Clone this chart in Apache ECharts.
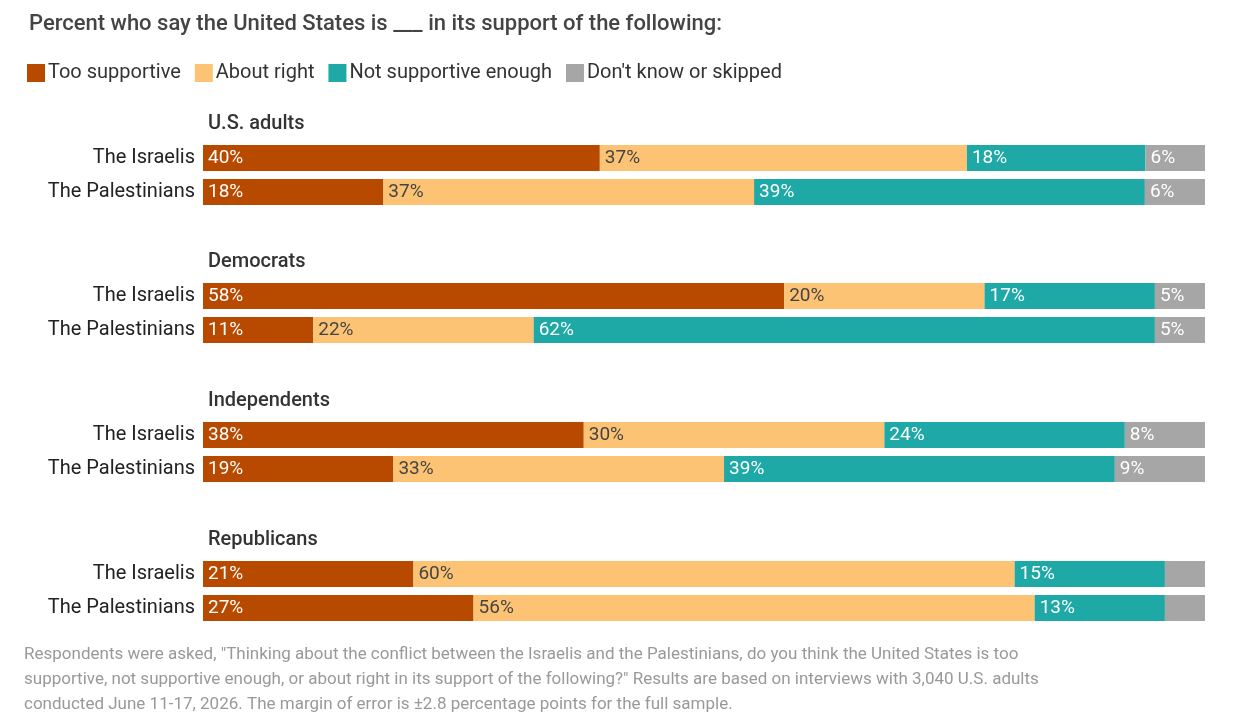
<!DOCTYPE html>
<html><head><meta charset="utf-8">
<script src="https://cdn.jsdelivr.net/npm/echarts@6/dist/echarts.min.js"></script>
<style>html,body{margin:0;padding:0;background:#fff}#c{width:1246px;height:717px}</style>
</head><body><div id="c"></div>
<script>
const groups = ["U.S. adults","Democrats","Independents","Republicans"];
const rows = ["The Israelis","The Palestinians"];
const seriesNames = ["Too supportive","About right","Not supportive enough","Don't know or skipped"];
const tooSupportive = [[40,18],[58,11],[38,19],[21,27]];
const aboutRight    = [[37,37],[20,22],[30,33],[60,56]];
const notEnough     = [[18,39],[17,62],[24,39],[15,13]];
const dontKnow      = [[6,6],[5,5],[8,9],[4,4]];
const showDontKnowLabel = [true,true,true,false];
const colors = ["#b84a00","#fdc375","#1ea8a6","#a6a6a6"];
const labelColors = ["#fff","#444","#fff","#fff"];
const all = [tooSupportive,aboutRight,notEnough,dontKnow];
const F = "Roboto, 'Noto Sans', sans-serif";
const tops = [141,279,418,557];
const grids=[],xAxes=[],yAxes=[],series=[],titles=[];
titles.push({text:"Percent who say the United States is ___ in its support of the following:",left:24,top:8,textStyle:{fontFamily:F,fontSize:22,fontWeight:500,color:"#444"}});
groups.forEach((g,gi)=>{
  grids.push({left:203,right:41,top:tops[gi],height:68});
  xAxes.push({gridIndex:gi,type:"value",min:0,max:100,show:false});
  yAxes.push({gridIndex:gi,type:"category",data:rows,inverse:true,axisLine:{show:false},axisTick:{show:false},
    axisLabel:{fontFamily:F,fontSize:20,color:"#222",margin:8}});
  titles.push({text:g,left:203,top:tops[gi]-32,textStyle:{fontFamily:F,fontSize:20,fontWeight:500,color:"#333"}});
  all.forEach((arr,si)=>{
    series.push({name:seriesNames[si],type:"bar",stack:"s"+gi,xAxisIndex:gi,yAxisIndex:gi,barWidth:26,
      itemStyle:{color:colors[si]},
      data:arr[gi].map((v,ri)=>{const tot=all.reduce((s,a)=>s+a[gi][ri],0);return {value:v/tot*100,raw:v};}),
      label:{show:si<3||showDontKnowLabel[gi],position:"insideLeft",offset:[-1,0],distance:6,fontFamily:F,fontSize:19,color:labelColors[si],
        formatter:p=>p.data.raw+"%"}});
  });
});
const chart=echarts.init(document.getElementById("c"));
chart.setOption({animation:false,title:titles,grid:grids,xAxis:xAxes,yAxis:yAxes,series:series,
  legend:{left:22,top:58,itemWidth:18,itemHeight:18,itemGap:14,icon:"rect",data:seriesNames,
    textStyle:{fontFamily:F,fontSize:20,color:"#333",padding:[0,0,0,-2]}},
  graphic:[{type:"text",left:24,top:642,style:{text:'Respondents were asked, "Thinking about the conflict between the Israelis and the Palestinians, do you think the United States is too\nsupportive, not supportive enough, or about right in its support of the following?" Results are based on interviews with 3,040 U.S. adults\nconducted June 11-17, 2026. The margin of error is \u00b12.8 percentage points for the full sample.',
    font:"17px "+F,fill:"#999",lineHeight:25}}]
});
</script></body></html>
